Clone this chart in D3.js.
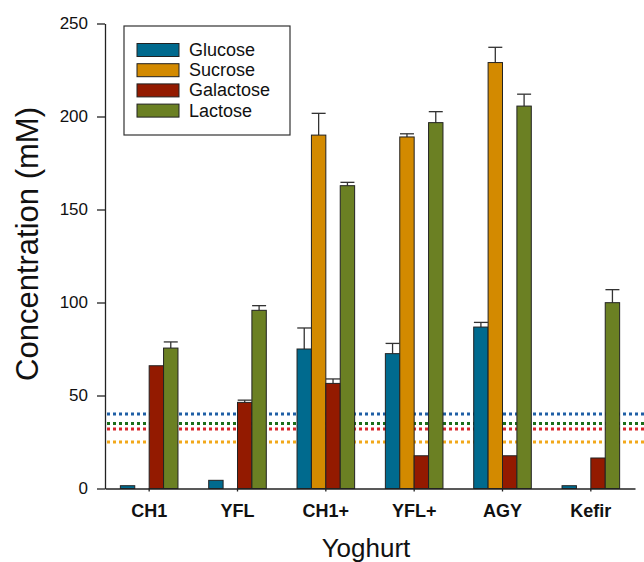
<!DOCTYPE html>
<html>
<head>
<meta charset="utf-8">
<script src="https://cdn.jsdelivr.net/npm/d3@7"></script>
<style>
  body { margin: 0; background: #fff; }
  svg { display: block; font-family: "Liberation Sans", Arial, sans-serif; }
</style>
</head>
<body>
<svg id="chart" width="644" height="562"></svg>
<script>
const categories = ["CH1", "YFL", "CH1+", "YFL+", "AGY", "Kefir"];
const seriesNames = ["Glucose", "Sucrose", "Galactose", "Lactose"];
const glucose   = [1.5, 4.4, 75, 72.5, 86.8, 1.5];
const glucoseErr = [0, 0, 11.3, 5.5, 2.5, 0];
const sucrose   = [0, 0, 190, 189, 229, 0];
const sucroseErr = [0, 0, 11.7, 1.7, 8.2, 0];
const galactose = [66, 46.3, 56.5, 17.6, 17.6, 16.4];
const galactoseErr = [0, 1.2, 2.4, 0, 0, 0];
const lactose   = [75.5, 95.8, 162.8, 196.7, 205.6, 99.9];
const lactoseErr = [3.3, 2.5, 1.8, 5.9, 6.4, 7.0];
const thresholds = [40, 35, 32, 25]; // Glucose, Lactose, Galactose, Sucrose limits
const thresholdColors = ["#1f5fa5", "#1a6e1a", "#d8262b", "#f2a81a"];
const yTicks = [0, 50, 100, 150, 200, 250];

const seriesColors = ["#006a8e", "#d38a00", "#931a00", "#6b8023"];
const seriesValues = [glucose, sucrose, galactose, lactose];
const seriesErrs = [glucoseErr, sucroseErr, galactoseErr, lactoseErr];

const svg = d3.select("#chart");
const mLeft = 105, mRight = 635, mTop = 23.5, mBottom = 488.5;

const x = d3.scaleBand().domain(categories).range([mLeft, mRight]).paddingInner(0).paddingOuter(0);
const groupW = 57.6;
const xs = d3.scaleBand().domain(seriesNames).range([0, groupW]).padding(0);
const y = d3.scaleLinear().domain([0, 250]).range([mBottom, mTop]);

// threshold dotted lines (behind bars)
svg.append("g").selectAll("line").data(thresholds).join("line")
  .attr("x1", mLeft + 2).attr("x2", 644)
  .attr("y1", d => y(d)).attr("y2", d => y(d))
  .attr("stroke", (d, i) => thresholdColors[i])
  .attr("stroke-width", 3)
  .attr("stroke-dasharray", "3,3");

const flat = [];
categories.forEach((c, ci) => {
  seriesNames.forEach((s, si) => {
    flat.push({c, s, si, v: seriesValues[si][ci], e: seriesErrs[si][ci]});
  });
});

const gx = d => x(d.c) + x.bandwidth() / 2 - groupW / 2 + xs(d.s);

// error bars
const eb = svg.append("g").attr("stroke", "#333").attr("stroke-width", 1.3);
flat.filter(d => d.e > 0).forEach(d => {
  const cx = gx(d) + xs.bandwidth() / 2;
  eb.append("line").attr("x1", cx).attr("x2", cx).attr("y1", y(d.v)).attr("y2", y(d.v + d.e));
  eb.append("line").attr("x1", cx - 7).attr("x2", cx + 7).attr("y1", y(d.v + d.e)).attr("y2", y(d.v + d.e));
});

// bars
svg.append("g").selectAll("rect").data(flat.filter(d => d.v > 0)).join("rect")
  .attr("x", d => gx(d))
  .attr("y", d => y(d.v))
  .attr("width", xs.bandwidth())
  .attr("height", d => y(0) - y(d.v))
  .attr("fill", d => seriesColors[d.si])
  .attr("stroke", "#222")
  .attr("stroke-width", 1);

// y axis
const yAxis = svg.append("g").attr("transform", `translate(${mLeft},0)`)
  .call(d3.axisLeft(y).tickValues(yTicks).tickSize(8).tickPadding(9).tickSizeOuter(0));
yAxis.select(".domain").attr("stroke", "#222").attr("stroke-width", 1.3);
yAxis.selectAll(".tick line").attr("stroke", "#222").attr("stroke-width", 1.3);
yAxis.selectAll(".tick text").attr("font-size", 17).attr("fill", "#111")
  .attr("font-family", "Liberation Sans, Arial, sans-serif");

// x axis
const xAxis = svg.append("g").attr("transform", `translate(0,${mBottom})`)
  .call(d3.axisBottom(x).tickSize(3).tickPadding(13).tickSizeOuter(0));
xAxis.select(".domain").attr("stroke", "#222").attr("stroke-width", 1.3);
xAxis.selectAll(".tick line").attr("stroke", "#222").attr("stroke-width", 1.3);
xAxis.selectAll(".tick text").attr("font-size", 18).attr("font-weight", "bold").attr("fill", "#111")
  .attr("font-family", "Liberation Sans, Arial, sans-serif");

// axis titles
svg.append("text")
  .attr("transform", "translate(38,244) rotate(-90)")
  .attr("text-anchor", "middle")
  .attr("font-size", 31).attr("fill", "#111")
  .text("Concentration (mM)");
svg.append("text")
  .attr("x", 366).attr("y", 556.5)
  .attr("text-anchor", "middle")
  .attr("font-size", 26).attr("fill", "#111")
  .text("Yoghurt");

// legend
const lg = svg.append("g");
lg.append("rect").attr("x", 124).attr("y", 26).attr("width", 166).attr("height", 109)
  .attr("fill", "#fff").attr("stroke", "#333").attr("stroke-width", 1.2);
seriesNames.forEach((s, i) => {
  const yy = 43.5 + i * 20.2;
  lg.append("rect").attr("x", 137).attr("y", yy).attr("width", 42).attr("height", 13)
    .attr("fill", seriesColors[i]).attr("stroke", "#222").attr("stroke-width", 1);
  lg.append("text").attr("x", 189).attr("y", yy + 12.5)
    .attr("font-size", 18).attr("fill", "#111").text(s);
});
</script>
</body>
</html>
